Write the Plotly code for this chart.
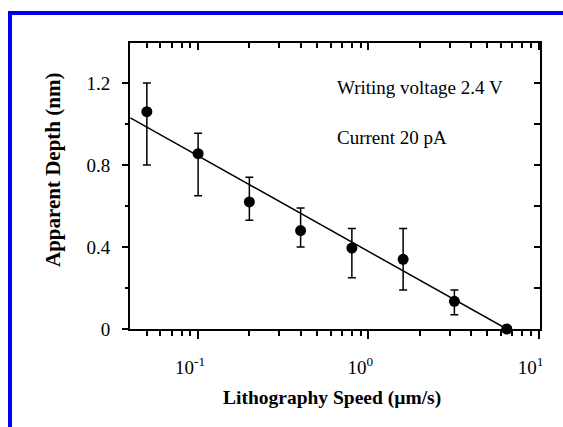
import plotly.graph_objects as go

speed = [0.05, 0.1, 0.2, 0.4, 0.8, 1.6, 3.2, 6.5]
depth = [1.06, 0.855, 0.62, 0.48, 0.395, 0.34, 0.135, 0.0]
err_plus = [0.14, 0.10, 0.12, 0.11, 0.095, 0.15, 0.055, 0.0]
err_minus = [0.26, 0.205, 0.09, 0.08, 0.145, 0.15, 0.065, 0.0]
fit_x = [0.04, 6.5]
fit_y = [1.03, 0.0]
x_tickvals = [0.1, 1, 10]
x_ticktext = ["10<sup>-1</sup>", "10<sup>0</sup>", "10<sup>1</sup>"]
x_minor_vals = [0.05, 0.06, 0.07, 0.08, 0.09,
                0.2, 0.3, 0.4, 0.5, 0.6, 0.7, 0.8, 0.9,
                2, 3, 4, 5, 6, 7, 8, 9]
y_tickvals = [0, 0.4, 0.8, 1.2]
y_ticktext = ["0", "0.4", "0.8", "1.2"]
y_minor_vals = [0.2, 0.6, 1.0]
y_right_vals = [0, 0.2, 0.4, 0.6, 0.8, 1.0, 1.2]

SERIF = "Liberation Serif, Times New Roman, serif"
W, H = 563, 427
L, R, T, B = 130, 23, 43, 98
PW, PH = W - L - R, H - T - B


def px(x):
    return (x - L) / PW


def py(y):
    return (H - B - y) / PH


fig = go.Figure()
fig.add_trace(go.Scatter(x=fit_x, y=fit_y, mode="lines",
                         line=dict(color="black", width=1.5), showlegend=False))
fig.add_trace(go.Scatter(
    x=speed, y=depth, mode="markers",
    marker=dict(color="black", size=11),
    error_y=dict(type="data", symmetric=False, array=err_plus, arrayminus=err_minus,
                 color="black", thickness=1.5, width=4),
    cliponaxis=False, showlegend=False))
# invisible trace to activate the mirrored overlay axes
fig.add_trace(go.Scatter(x=[0.1], y=[0], xaxis="x2", yaxis="y2", mode="markers",
                         marker=dict(opacity=0), showlegend=False, hoverinfo="skip"))

xr = [-1.4, 1.008]
yr = [0, 1.395]
fig.update_layout(
    width=W, height=H,
    margin=dict(l=L, r=R, t=T, b=B, autoexpand=False),
    paper_bgcolor="white", plot_bgcolor="white",
    font=dict(family=SERIF, color="black", size=19),
    xaxis=dict(type="log", range=xr, tickvals=x_tickvals, ticktext=x_ticktext,
               showgrid=False, zeroline=False, showline=True, linecolor="black", linewidth=2,
               ticks="outside", ticklen=8, tickwidth=1.5, tickcolor="black",
               ticklabelstandoff=12, ticklabelshift=-8,
               minor=dict(tickvals=x_minor_vals, ticks="outside", ticklen=5,
                          tickwidth=1.5, tickcolor="black", showgrid=False),
               tickfont=dict(size=19, family=SERIF)),
    xaxis2=dict(type="log", range=xr, overlaying="x", side="top", anchor="y",
                tickvals=x_tickvals,
                showticklabels=False, showgrid=False, zeroline=False, showline=True,
                linecolor="black", linewidth=2, ticks="inside", ticklen=7, tickwidth=1.5,
                tickcolor="black",
                minor=dict(tickvals=x_minor_vals, ticks="inside", ticklen=5,
                           tickwidth=1.5, tickcolor="black", showgrid=False)),
    yaxis=dict(range=yr, tickvals=y_tickvals, ticktext=y_ticktext, showgrid=False,
               zeroline=False, showline=True, linecolor="black", linewidth=2,
               ticks="outside", ticklen=6, tickwidth=1.5, tickcolor="black",
               ticklabelstandoff=8,
               minor=dict(tickvals=y_minor_vals, ticks="outside", ticklen=3,
                          tickcolor="black", showgrid=False),
               tickfont=dict(size=19, family=SERIF)),
    yaxis2=dict(range=yr, overlaying="y", side="right", anchor="x",
                tickvals=y_right_vals,
                showticklabels=False, showgrid=False, zeroline=False, showline=True,
                linecolor="black", linewidth=2, ticks="inside", ticklen=6,
                tickwidth=1.5, tickcolor="black"),
    annotations=[
        dict(text="Writing voltage 2.4 V", xref="paper", yref="paper",
             x=px(335), y=py(88), xanchor="left", yanchor="middle", showarrow=False,
             font=dict(size=19, family=SERIF)),
        dict(text="Current 20 pA", xref="paper", yref="paper",
             x=px(335), y=py(137), xanchor="left", yanchor="middle", showarrow=False,
             font=dict(size=19, family=SERIF)),
        dict(text="<b>Apparent Depth (nm)</b>", xref="paper", yref="paper",
             x=px(53), y=py(170), xanchor="center", yanchor="middle", textangle=-90,
             showarrow=False, font=dict(size=21, family=SERIF)),
        dict(text="<b>Lithography Speed (\u00b5m/s)</b>", xref="paper", yref="paper",
             x=px(332), y=py(398), xanchor="center", yanchor="middle",
             showarrow=False, font=dict(size=19.5, family=SERIF)),
    ],
    shapes=[
        dict(type="line", xref="paper", yref="paper", x0=px(10), x1=px(10),
             y0=py(11), y1=py(430), line=dict(color="#0000ee", width=4)),
        dict(type="line", xref="paper", yref="paper", x0=px(8), x1=px(566),
             y0=py(13), y1=py(13), line=dict(color="#0000ee", width=4)),
    ],
)
fig.write_html("out.html", config={"displayModeBar": False},
               post_script="document.body.style.margin='0';")
